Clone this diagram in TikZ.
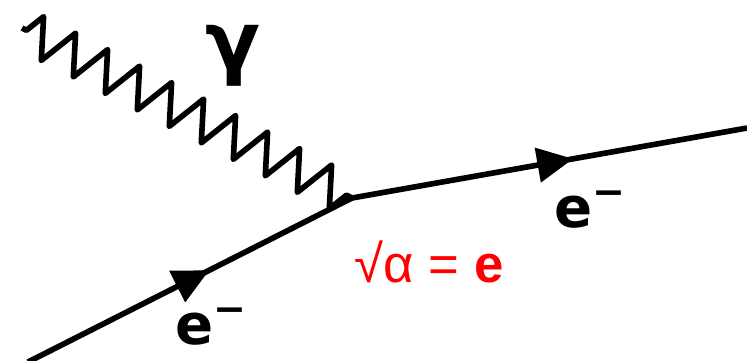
\documentclass[tikz,border=0pt]{standalone}
\usepackage{fontspec}
\setmainfont{DejaVu Sans}
\newfontfamily\labelfont{Liberation Sans}
\usetikzlibrary{arrows.meta,decorations.markings,decorations.pathmorphing}

\tikzset{
    fermion/.style={line width=1.6pt, postaction={decorate},
        decoration={markings, mark=at position 0.56 with {\arrow{Triangle[length=3.6mm,width=3.4mm]}}}},
    photon/.style={line width=1.6pt, line join=round, decorate,
        decoration={zigzag, segment length=3.6mm, amplitude=2.0mm, pre length=0.5mm, post length=0.5mm}},
    particle/.style={font=\bfseries\fontsize{16}{18}\selectfont},
}

\begin{document}
\begin{tikzpicture}
    \useasboundingbox (0,0) rectangle (7.47,3.6);

    % Vertex and external points
    \coordinate (vtx) at (3.52,1.62);
    \coordinate (ein) at (0.28,-0.02);
    \coordinate (eout) at (7.47,2.32);
    \coordinate (gin) at (0.22,3.32);

    % Electron lines
    \draw[fermion] (ein) -- (vtx);
    \draw[fermion] (vtx) -- (eout);

    % Photon line
    \draw[photon] (gin) -- (vtx);

    % Particle labels
    \node[particle, font=\bfseries\fontsize{23}{24}\selectfont] (gam) at (2.33,3.04) {γ};
    \node[particle] (ebot) at (2.12,0.33) {e\textsuperscript{−}};
    \node[particle] (etop) at (5.91,1.50) {e\textsuperscript{−}};

    % Coupling
    \node[red, font=\labelfont\fontsize{15}{17}\selectfont] (coup) at (4.29,0.98) {√α = \textbf{e}};
\end{tikzpicture}
\end{document}
